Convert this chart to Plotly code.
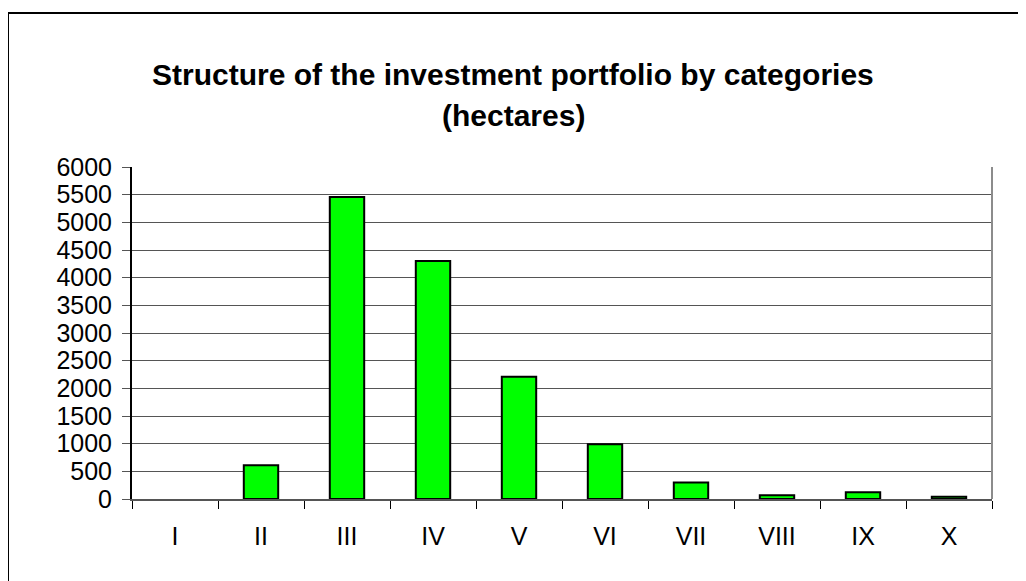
import plotly.graph_objects as go

categories = ["I", "II", "III", "IV", "V", "VI", "VII", "VIII", "IX", "X"]
hectares = [0, 610, 5460, 4300, 2210, 990, 300, 70, 120, 40]
y_ticks = list(range(0, 6001, 500))
title_line1 = "Structure of the investment portfolio by categories"
title_line2 = "(hectares)"

FONT = "Liberation Sans, Arial, sans-serif"

# page body has an 8px margin: figure is drawn at (8, 8)
OFF = 8
W, H = 1026, 581
L, R, T, B = 132 - OFF, 34 + OFF, 167 - OFF, 82 + OFF
PW, PH = W - L - R, H - T - B


def px_x(x):
    return (x - OFF - L) / PW


def px_y(y):
    return 1 - (y - OFF - T) / PH


fig = go.Figure(
    go.Bar(
        x=categories,
        y=hectares,
        width=0.4,
        marker=dict(color="#00FF00",
                    line=dict(color="black", width=[0 if v == 0 else 2 for v in hectares])),
    )
)

fig.update_layout(
    width=W,
    height=H,
    margin=dict(l=L, r=R, t=T, b=B),
    paper_bgcolor="white",
    plot_bgcolor="white",
    showlegend=False,
    font=dict(family=FONT, size=25, color="black"),
    annotations=[
        dict(text="<b>" + title_line1 + "</b>", xref="paper", yref="paper",
             x=px_x(513), y=px_y(74), xanchor="center", yanchor="middle", showarrow=False,
             font=dict(family=FONT, size=30, color="black")),
        dict(text="<b>" + title_line2 + "</b>", xref="paper", yref="paper",
             x=px_x(513), y=px_y(115), xanchor="center", yanchor="middle", showarrow=False,
             font=dict(family=FONT, size=30, color="black")),
    ],
    shapes=[
        dict(type="line", xref="paper", yref="paper",
             x0=px_x(8), x1=px_x(W + 20), y0=px_y(13), y1=px_y(13),
             line=dict(color="black", width=2)),
        dict(type="line", xref="paper", yref="paper",
             x0=px_x(8), x1=px_x(8), y0=px_y(13), y1=px_y(H + 20),
             line=dict(color="black", width=2)),
        dict(type="line", xref="paper", yref="paper", x0=1, x1=1, y0=0, y1=1,
             line=dict(color="#8c8c8c", width=2)),
    ],
)

fig.update_xaxes(
    type="category",
    range=[-0.5, 9.5],
    showline=True, linecolor="#555555", linewidth=2,
    ticks="outside", ticklen=8, tickcolor="black", tickwidth=1,
    tickson="boundaries",
    showgrid=False,
    ticklabelstandoff=14,
    tickfont=dict(family=FONT, size=25, color="black"),
)
fig.update_yaxes(
    range=[0, 6000],
    tickvals=y_ticks,
    showline=True, linecolor="black", linewidth=2,
    ticks="outside", ticklen=8, tickcolor="#555555", tickwidth=1,
    showgrid=True, gridcolor="#555555", gridwidth=1,
    zeroline=False,
    ticklabelstandoff=5,
    tickfont=dict(family=FONT, size=25, color="black"),
)

fig.write_html("out.html")
